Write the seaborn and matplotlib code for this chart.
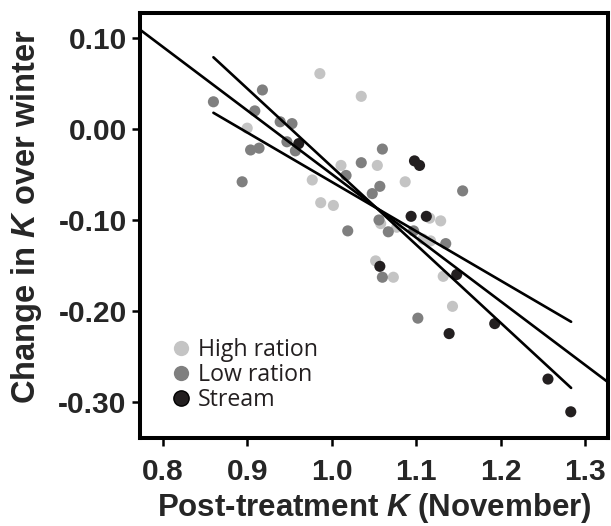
import numpy as np
import pandas as pd
import matplotlib
matplotlib.use("Agg")
import matplotlib.pyplot as plt
import seaborn as sns
from matplotlib.lines import Line2D

# ---------------- data ----------------
groups = ["High ration", "Low ration", "Stream"]
group_colors = ["#c4c4c4", "#7f7f7f", "#231f20"]

high_x = [0.986, 1.035, 0.900, 1.011, 0.977, 0.987, 1.002, 1.054, 1.087, 1.116,
          1.129, 1.058, 1.077, 1.108, 1.117, 1.052, 1.073, 1.132, 1.143]
high_y = [0.061, 0.036, 0.001, -0.040, -0.056, -0.081, -0.084, -0.040, -0.058, -0.098,
          -0.101, -0.104, -0.108, -0.121, -0.123, -0.145, -0.163, -0.162, -0.195]

low_x = [0.918, 0.860, 0.909, 0.939, 0.953, 0.947, 0.957, 0.904, 0.914, 1.017,
         1.035, 0.894, 1.019, 1.060, 1.057, 1.048, 1.155, 1.056, 1.067, 1.097,
         1.135, 1.060, 1.102]
low_y = [0.043, 0.030, 0.020, 0.008, 0.006, -0.014, -0.024, -0.023, -0.021, -0.051,
         -0.037, -0.058, -0.112, -0.022, -0.063, -0.071, -0.068, -0.100, -0.113, -0.112,
         -0.126, -0.163, -0.208]

stream_x = [0.961, 1.098, 1.104, 1.094, 1.112, 1.057, 1.148, 1.139, 1.193, 1.256, 1.283]
stream_y = [-0.016, -0.035, -0.040, -0.096, -0.096, -0.151, -0.160, -0.225, -0.214, -0.275, -0.311]

# regression lines: x range, slope, intercept
fit_x_start = [0.860, 0.860, 0.770]
fit_x_end = [1.2834, 1.2834, 1.330]
fit_slope = [-0.859, -0.543, -0.700]
fit_intercept = [0.8177, 0.4849, 0.6505]

x_ticks = [0.8, 0.9, 1.0, 1.1, 1.2, 1.3]
x_ticklabels = ["0.8", "0.9", "1.0", "1.1", "1.2", "1.3"]
y_ticks = [0.10, 0.00, -0.10, -0.20, -0.30]
y_ticklabels = ["0.10", "0.00", "-0.10", "-0.20", "-0.30"]

df = pd.DataFrame({
    "x": high_x + low_x + stream_x,
    "y": high_y + low_y + stream_y,
    "group": [groups[0]] * len(high_x) + [groups[1]] * len(low_x) + [groups[2]] * len(stream_x),
})

# ---------------- style ----------------
sns.set_theme(style="white")
plt.rcParams["font.family"] = ["Liberation Sans", "DejaVu Sans"]
plt.rcParams["mathtext.fontset"] = "custom"
plt.rcParams["mathtext.rm"] = "Liberation Sans:bold"
plt.rcParams["mathtext.bf"] = "Liberation Sans:bold"
plt.rcParams["mathtext.it"] = "Liberation Sans:bold:italic"
plt.rcParams["mathtext.bfit"] = "Liberation Sans:bold:italic"

fig = plt.figure(figsize=(6.11, 5.26), dpi=100)
ax = fig.add_axes([0.229, 0.167, 0.766, 0.808])

sns.scatterplot(data=df, x="x", y="y", hue="group", hue_order=groups,
                palette=dict(zip(groups, group_colors)), s=64, linewidth=0,
                ax=ax, legend=False, zorder=2)

for x0, x1, m, b in zip(fit_x_start, fit_x_end, fit_slope, fit_intercept):
    xs = np.array([x0, x1])
    ys = b + m * xs
    sns.lineplot(x=xs, y=ys, color="black", linewidth=1.9, ax=ax, zorder=3)

ax.set_xlim(0.773, 1.327)
ax.set_ylim(-0.34, 0.1275)
ax.set_xticks(x_ticks)
ax.set_xticklabels(x_ticklabels)
ax.set_yticks(y_ticks)
ax.set_yticklabels(y_ticklabels)

for sp in ax.spines.values():
    sp.set_linewidth(2.9)
    sp.set_color("black")
    sp.set_visible(True)

ax.tick_params(axis="both", which="major", direction="out", length=5.5, width=1.8,
               color="black", labelsize=21.5, bottom=True, left=True)
ax.tick_params(axis="x", pad=9)
ax.tick_params(axis="y", pad=4)
for lab in ax.get_xticklabels() + ax.get_yticklabels():
    lab.set_fontweight("bold")

ax.set_xlabel(r"Post-treatment $\mathbfit{K}$ (November)", fontsize=22.5,
              fontweight="bold")
ax.set_ylabel(r"Change in $\mathbfit{K}$ over winter", fontsize=23.5,
              fontweight="bold")
ax.xaxis.set_label_coords(0.5, -0.124)
ax.yaxis.set_label_coords(-0.205, 0.521)

handles = [Line2D([], [], linestyle="none", marker="o", markersize=11,
                  markerfacecolor=c, markeredgecolor=("black" if i == 2 else c),
                  markeredgewidth=(1.0 if i == 2 else 0))
           for i, c in enumerate(group_colors)]
leg = ax.legend(handles, groups, loc="upper left", bbox_to_anchor=(0.033, 0.262),
                frameon=False, prop={"family": "Open Sans", "size": 16.7},
                handletextpad=0.15, labelspacing=0.04, borderpad=0, handlelength=1.2)
for t in leg.get_texts():
    t.set_color("#231f20")

fig.savefig("out.png", dpi=100)
